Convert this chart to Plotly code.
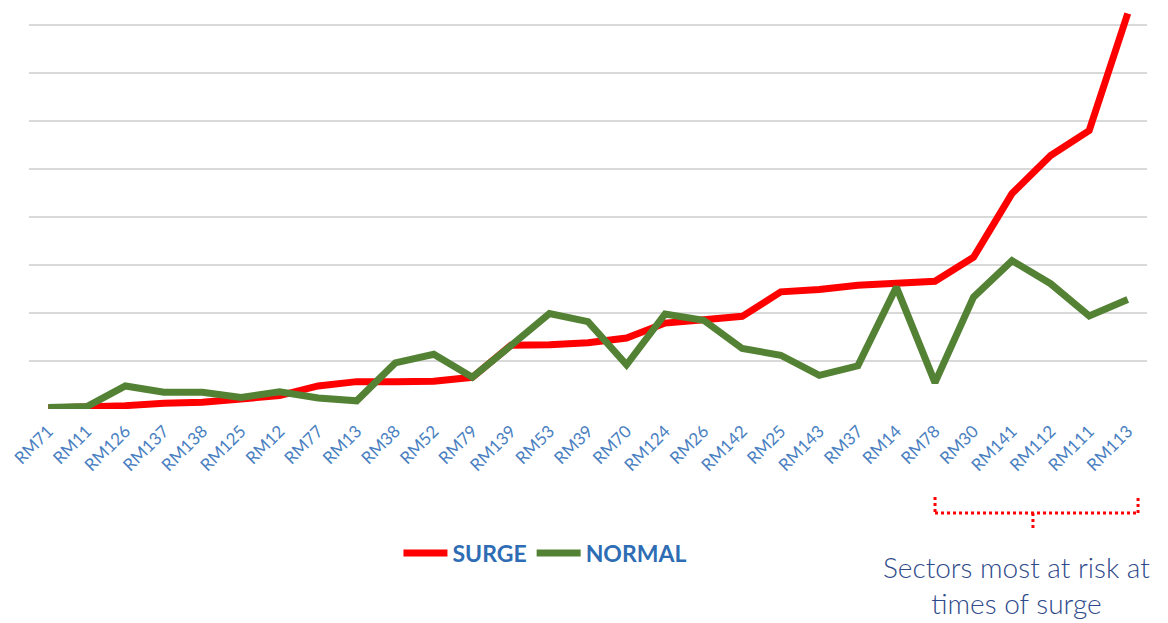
import plotly.graph_objects as go

sectors = ["RM71", "RM11", "RM126", "RM137", "RM138", "RM125", "RM12", "RM77",
           "RM13", "RM38", "RM52", "RM79", "RM139", "RM53", "RM39", "RM70",
           "RM124", "RM26", "RM142", "RM25", "RM143", "RM37", "RM14", "RM78",
           "RM30", "RM141", "RM112", "RM111", "RM113"]

surge = [0.02, 0.03, 0.07, 0.12, 0.14, 0.21, 0.28, 0.48, 0.57, 0.57, 0.58, 0.66,
         1.33, 1.34, 1.38, 1.48, 1.79, 1.86, 1.93, 2.44, 2.49, 2.58, 2.63, 2.66,
         3.16, 4.49, 5.28, 5.80, 8.24]

normal = [0.03, 0.05, 0.48, 0.35, 0.35, 0.24, 0.36, 0.23, 0.17, 0.96, 1.14, 0.66,
          1.32, 1.99, 1.82, 0.92, 1.98, 1.85, 1.26, 1.12, 0.70, 0.90, 2.54, 0.55,
          2.33, 3.09, 2.61, 1.94, 2.28]

RED = "#FF0000"
GREEN = "#548235"
LABEL_BLUE = "#4A7FC1"
LEGEND_BLUE = "#2E6DB4"
NOTE_BLUE = "#2F4A8A"

fig = go.Figure()
fig.add_trace(go.Scatter(x=sectors, y=surge, name="SURGE", mode="lines",
                         line=dict(color=RED, width=7), cliponaxis=False))
fig.add_trace(go.Scatter(x=sectors, y=normal, name="NORMAL", mode="lines",
                         line=dict(color=GREEN, width=7), cliponaxis=False))

# bracket marking the high-risk sectors
bx0, bx1, bxm = 0.8104, 0.992, 0.898
ytop, ymid, ybot = -0.2157, -0.2549, -0.2917
bracket_style = dict(color=RED, width=3, dash="dot")
for (x0, y0, x1, y1) in [(bx0, ytop, bx0, ymid), (bx0, ymid, bx1, ymid),
                         (bx1, ymid, bx1, ytop), (bxm, ymid, bxm, ybot)]:
    fig.add_shape(type="line", xref="paper", yref="paper",
                  x0=x0, y0=y0, x1=x1, y1=y1, line=bracket_style)

fig.add_annotation(xref="paper", yref="paper", x=0.8837, y=-0.34,
                   xanchor="center", yanchor="top", showarrow=False,
                   text="Sectors most at risk at<br>times of surge",
                   align="center",
                   font=dict(family="Lato", size=28, color=NOTE_BLUE,
                             weight=300))

fig.update_layout(
    width=1168, height=623,
    margin=dict(l=29, r=21, t=1, b=214),
    paper_bgcolor="white", plot_bgcolor="white",
    showlegend=True,
    legend=dict(orientation="h", x=0.4615, y=-0.353, xanchor="center",
                yanchor="middle", font=dict(family="Lato", size=23,
                                            color=LEGEND_BLUE, weight="bold"),
                itemwidth=44, tracegroupgap=0),
    xaxis=dict(type="category", tickangle=-45, showgrid=False, zeroline=False,
               showline=False, ticks="", range=[-0.5, len(sectors) - 0.5],
               ticklabelstandoff=8,
               tickfont=dict(family="Lato", size=17, color=LABEL_BLUE)),
    yaxis=dict(range=[0, 8.5], dtick=1, showticklabels=False,
               showgrid=True, gridcolor="#D9D9D9", gridwidth=1.5,
               zeroline=False, showline=False),
)

fig.write_html("out.html")
